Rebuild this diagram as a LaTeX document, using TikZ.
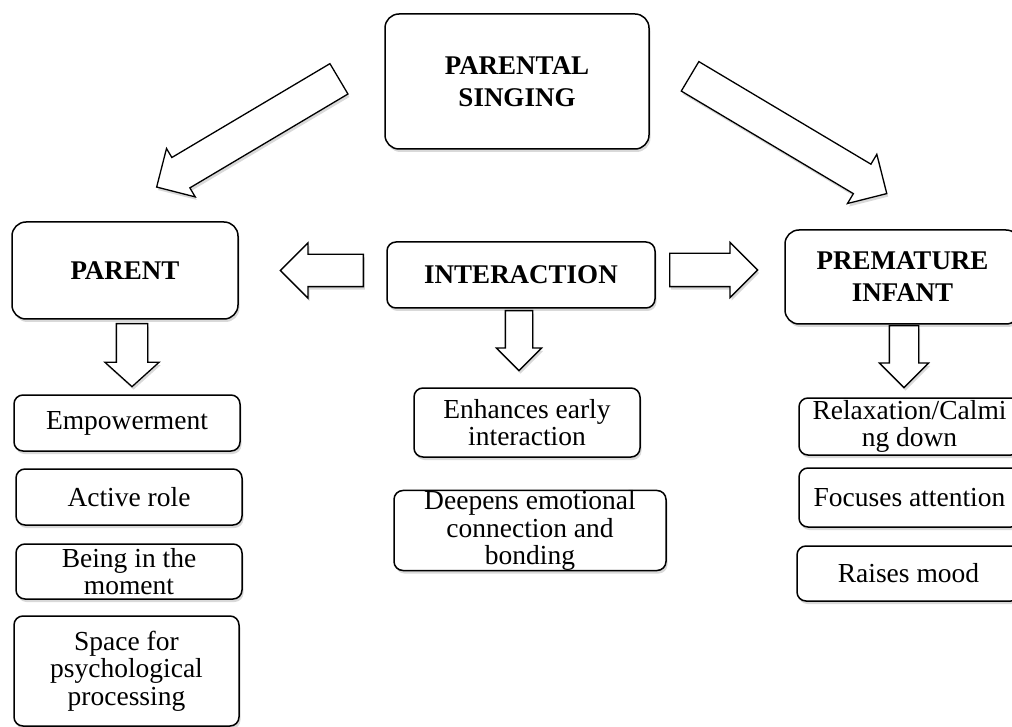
\documentclass[tikz,border=0pt]{standalone}
\usepackage{fontspec}
\setmainfont{Liberation Serif}
\usetikzlibrary{shapes.arrows,shadows}

\tikzset{
  box/.style={draw, line width=1.5pt, rounded corners=9pt, fill=white, align=center, inner sep=0pt,
    drop shadow={shadow xshift=1.5pt, shadow yshift=-3pt, opacity=0.3, fill=black!50}},
  headbox/.style={box, rounded corners=14pt, font=\bfseries\fontsize{27}{32}\selectfont},
  itembox/.style={box, font=\fontsize{27.5}{27.5}\selectfont},
  blockarrow/.style={single arrow, draw, line width=1.3pt, fill=white, inner xsep=0pt, anchor=tail,
    single arrow head indent=0pt, single arrow tip angle=90,
    drop shadow={shadow xshift=1.5pt, shadow yshift=-3pt, opacity=0.3, fill=black!50}}
}

\begin{document}
\begin{tikzpicture}[x=1pt,y=-1pt]
    \useasboundingbox (0,0) rectangle (1012,727);
    \clip (0,0) rectangle (1012,727);

    % main boxes
    \node[headbox, minimum width=264pt, minimum height=135pt] (singing) at (517,81.5) {PARENTAL\\SINGING};
    \node[headbox, minimum width=226pt, minimum height=97pt] (parent) at (125,270.5) {PARENT};
    \node[headbox, rounded corners=9pt, minimum width=268pt, minimum height=66pt] (inter) at (521,275) {INTERACTION};
    \node[headbox, minimum width=235pt, minimum height=94pt] (infant) at (902.5,277) {PREMATURE\\INFANT};

    % block arrows
    \node[blockarrow, rotate=210.7, minimum height=212pt, inner ysep=17pt, single arrow head extend=10.5pt] (sp) at (339.5,78.5) {};
    \node[blockarrow, rotate=-30.8, minimum height=229pt, inner ysep=16.5pt, single arrow head extend=11.5pt] (si) at (689.5,76) {};
    \node[blockarrow, rotate=180, minimum height=83pt, inner ysep=15.5pt, single arrow head extend=11.5pt] (ip) at (364,270.5) {};
    \node[blockarrow, minimum height=88pt, inner ysep=16pt, single arrow head extend=11pt] (ii) at (669,270) {};
    \node[blockarrow, rotate=-90, minimum height=63pt, inner ysep=15pt, single arrow head extend=11.5pt, single arrow tip angle=96] (pd) at (132,323) {};
    \node[blockarrow, rotate=-90, minimum height=60pt, inner ysep=13pt, single arrow head extend=9pt] (id) at (519,310) {};
    \node[blockarrow, rotate=-90, minimum height=62pt, inner ysep=14pt, single arrow head extend=10pt] (nd) at (904,325) {};

    % parent column
    \node[itembox, minimum width=226pt, minimum height=56pt] (empow) at (127,423) {Empowerment};
    \node[itembox, minimum width=226pt, minimum height=56pt] (active) at (129,497) {Active role};
    \node[itembox, minimum width=226pt, minimum height=55pt] (being) at (129,571.5) {Being in the\\moment};
    \node[itembox, minimum width=225pt, minimum height=110pt] (space) at (126.5,671) {Space for\\psychological\\processing};

    % interaction column
    \node[itembox, minimum width=226pt, minimum height=69pt] (enh) at (527,422.5) {Enhances early\\interaction};
    \node[itembox, minimum width=272pt, minimum height=79pt] (deep) at (530,530.5) {Deepens emotional\\connection and\\bonding};

    % infant column
    \node[itembox, minimum width=221pt, minimum height=57pt] (relax) at (909.5,426.5) {Relaxation/Calmi\\ng down};
    \node[itembox, minimum width=221pt, minimum height=59pt] (focus) at (909.5,497.5) {Focuses attention};
    \node[itembox, minimum width=223pt, minimum height=55pt] (mood) at (908.5,573.5) {Raises mood};
\end{tikzpicture}
\end{document}
